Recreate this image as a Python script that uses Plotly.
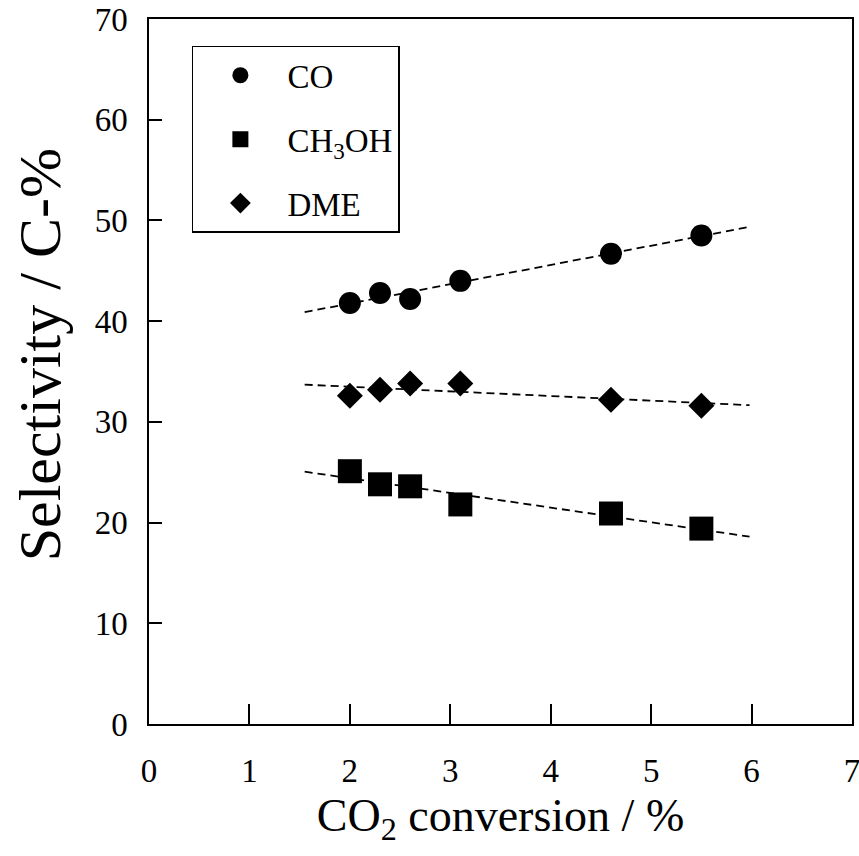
import numpy as np
import plotly.graph_objects as go

conversion = [2.0, 2.3, 2.6, 3.1, 4.6, 5.5]
sel_co = [41.8, 42.8, 42.2, 44.0, 46.7, 48.5]
sel_meoh = [25.1, 23.8, 23.6, 21.8, 20.9, 19.4]
sel_dme = [32.6, 33.2, 33.8, 33.8, 32.2, 31.6]
trend_range = [1.55, 5.98]

x_ticks = [0, 1, 2, 3, 4, 5, 6, 7]
y_ticks = [0, 10, 20, 30, 40, 50, 60, 70]

FONT = "Liberation Serif, Times New Roman, serif"

fig = go.Figure()

series = [
    ("CO", sel_co, "circle", 22),
    ("CH<sub>3</sub>OH", sel_meoh, "square", 24),
    ("DME", sel_dme, "diamond", 20),
]

for name, ys, sym, size in series:
    coef = np.polyfit(conversion, ys, 1)
    tx = np.array(trend_range)
    fig.add_trace(go.Scatter(
        x=tx, y=np.polyval(coef, tx), mode="lines",
        line=dict(color="black", width=1.8, dash="8px,5px"),
        showlegend=False, hoverinfo="skip"))

for i, (name, ys, sym, size) in enumerate(series):
    fig.add_trace(go.Scatter(
        x=conversion, y=ys, mode="markers", name=name,
        legendgroup=f"g{i}",
        marker=dict(symbol=sym, size=size, color="black", line=dict(width=0))))

axis_common = dict(
    showline=True, linecolor="black", linewidth=1.5, mirror=True,
    ticks="inside", tickcolor="black", tickwidth=1.5,
    showgrid=False, zeroline=False, automargin=False,
    ticklabeloverflow="allow",
    tickfont=dict(family=FONT, size=33, color="black"),
)

fig.update_layout(
    width=859, height=856,
    margin=dict(l=149, r=7, t=19, b=132, autoexpand=False),
    paper_bgcolor="white", plot_bgcolor="white",
    font=dict(family=FONT, color="black"),
    xaxis=dict(range=[0, 7], tickvals=x_ticks, ticklen=20,
               title=dict(text="CO<sub>2</sub> conversion / %",
                          font=dict(family=FONT, size=46), standoff=10),
               ticklabelstandoff=17, **axis_common),
    yaxis=dict(range=[0, 70], tickvals=y_ticks, ticklen=13,
               ticklabelstandoff=13, **axis_common),
    annotations=[dict(text="Selectivity / C-%", textangle=-90,
                      xref="paper", yref="paper", x=-0.155, y=0.523,
                      xanchor="center", yanchor="middle", showarrow=False,
                      font=dict(family=FONT, size=60, color="black"))],
    legend=dict(x=0.061, y=0.962, xanchor="left", yanchor="top",
                bordercolor="black", borderwidth=1.5, bgcolor="white",
                font=dict(family=FONT, size=33, color="black"),
                itemsizing="trace", tracegroupgap=18,
                itemwidth=84, entrywidth=208),
)

fig.write_html("out.html",
               config={"displayModeBar": False},
               post_script="document.body.style.margin='0';document.body.style.overflow='hidden';")
